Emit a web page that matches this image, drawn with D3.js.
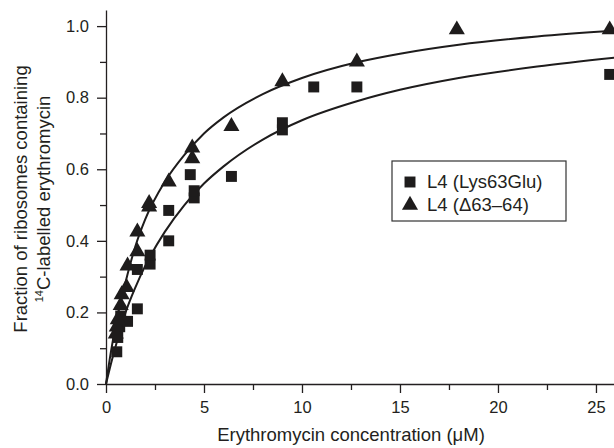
<!DOCTYPE html>
<html>
<head>
<meta charset="utf-8">
<script src="https://cdn.jsdelivr.net/npm/d3@7"></script>
<style>
  body { margin: 0; background: #fff; }
  svg { display: block; font-family: "Liberation Sans", Arial, sans-serif; }
  .axis path, .axis line { stroke: #231f20; stroke-width: 1.3; }
  .axis text { fill: #231f20; font-size: 16.5px; }
</style>
</head>
<body>
<svg id="chart" width="614" height="448"></svg>
<script>
// data
const lysPoints = [
  [0.55, 0.09], [0.6, 0.13], [0.7, 0.16], [0.75, 0.19], [1.1, 0.175],
  [1.6, 0.21], [1.6, 0.32], [2.25, 0.335], [2.25, 0.36], [3.2, 0.40],
  [3.2, 0.485], [4.3, 0.585], [4.5, 0.52], [4.5, 0.54], [6.4, 0.58],
  [9.0, 0.71], [9.0, 0.73], [10.6, 0.83], [12.8, 0.83], [25.7, 0.865]
];
const delPoints = [
  [0.5, 0.14], [0.55, 0.16], [0.6, 0.18], [0.75, 0.22], [0.8, 0.25],
  [1.05, 0.27], [1.1, 0.33], [1.6, 0.37], [1.6, 0.425], [2.2, 0.495],
  [2.2, 0.505], [3.2, 0.565], [4.4, 0.63], [4.4, 0.66], [6.4, 0.72],
  [9.0, 0.845], [12.8, 0.9], [17.9, 0.99], [25.7, 0.99]
];
// fitted curves
const lysCurve = [
  [0, 0], [0.25, 0.056], [0.5, 0.107], [1, 0.2], [1.5, 0.27], [2, 0.33],
  [3, 0.425], [4, 0.5], [5, 0.56], [6, 0.608], [8, 0.683], [10, 0.737],
  [12.8, 0.79], [15, 0.822], [18, 0.855], [22, 0.887], [26, 0.912]
];
const delCurve = [
  [0, 0], [0.25, 0.09], [0.5, 0.165], [1, 0.285], [1.5, 0.385], [2, 0.46],
  [3, 0.565], [4, 0.64], [5, 0.70], [6, 0.745], [8, 0.81], [10, 0.855],
  [12.8, 0.899], [15, 0.923], [18, 0.948], [22, 0.971], [26, 0.987]
];
const xTicks = [0, 5, 10, 15, 20, 25];
const xMinor = [2.5, 7.5, 12.5, 17.5, 22.5];
const yTicks = [0, 0.2, 0.4, 0.6, 0.8, 1.0];
const yMinor = [0.1, 0.3, 0.5, 0.7, 0.9];
const legendItems = [
  {label: "L4 (Lys63Glu)", symbol: "square"},
  {label: "L4 (\u039463\u201364)", symbol: "triangle"}
];

const ink = "#1e1c1c";
const svg = d3.select("#chart");
const margins = {left: 106, top: 10, right: 0, bottom: 64};
const width = +svg.attr("width");
const height = +svg.attr("height");

const xScale = d3.scaleLinear()
                 .domain([0, 25.92])
                 .range([margins.left, width - margins.right]);
const yScale = d3.scaleLinear()
                 .domain([0, 1.045])
                 .range([height - margins.bottom, margins.top]);

// minor ticks first, then the main axes on top
svg.append("g")
   .attr("class", "axis")
   .attr("transform", `translate(0, ${yScale(0)})`)
   .call(d3.axisBottom(xScale).tickValues(xMinor).tickSize(6).tickFormat(""))
   .select(".domain").remove();
svg.append("g")
   .attr("class", "axis")
   .attr("transform", `translate(${xScale(0)}, 0)`)
   .call(d3.axisLeft(yScale).tickValues(yMinor).tickSize(6).tickFormat(""))
   .select(".domain").remove();

svg.append("g")
   .attr("class", "axis")
   .attr("transform", `translate(0, ${yScale(0)})`)
   .call(d3.axisBottom(xScale).tickValues(xTicks).tickSize(9).tickPadding(8)
           .tickSizeOuter(0).tickFormat(d3.format("d")));
svg.append("g")
   .attr("class", "axis")
   .attr("transform", `translate(${xScale(0)}, 0)`)
   .call(d3.axisLeft(yScale).tickValues(yTicks).tickSize(9).tickPadding(8)
           .tickSizeOuter(0).tickFormat(d3.format(".1f")));

// axis titles
svg.append("text")
   .attr("x", 351)
   .attr("y", 441)
   .attr("text-anchor", "middle")
   .attr("font-size", 18.5)
   .attr("fill", "#231f20")
   .text("Erythromycin concentration (\u03bcM)");

const yTitle = svg.append("g")
                  .attr("transform", "translate(0, 199) rotate(-90)")
                  .attr("fill", "#231f20")
                  .attr("font-size", 18.5)
                  .attr("text-anchor", "middle");
yTitle.append("text")
      .attr("x", 0).attr("y", 27)
      .text("Fraction of ribosomes containing");
const line2 = yTitle.append("text").attr("x", 0).attr("y", 50);
line2.append("tspan").attr("font-size", 11).attr("dy", -7).text("14");
line2.append("tspan").attr("dy", 7).text("C-labelled erythromycin");

// curves
const curve = d3.line()
                .x(d => xScale(d[0]))
                .y(d => yScale(d[1]))
                .curve(d3.curveMonotoneX);
svg.selectAll(".fit")
   .data([lysCurve, delCurve])
   .join("path")
   .attr("class", "fit")
   .attr("d", curve)
   .attr("fill", "none")
   .attr("stroke", ink)
   .attr("stroke-width", 2);

// points
const squareSym = d3.symbol().type(d3.symbolSquare).size(120);
const triSym = d3.symbol().type(d3.symbolTriangle).size(112);
svg.selectAll(".lys")
   .data(lysPoints)
   .join("path")
   .attr("class", "lys")
   .attr("d", squareSym)
   .attr("transform", d => `translate(${xScale(d[0])}, ${yScale(d[1])})`)
   .attr("fill", ink);
svg.selectAll(".del")
   .data(delPoints)
   .join("path")
   .attr("class", "del")
   .attr("d", triSym)
   .attr("transform", d => `translate(${xScale(d[0])}, ${yScale(d[1])})`)
   .attr("fill", ink);

// legend
const legend = svg.append("g").attr("transform", "translate(392, 161)");
legend.append("rect")
      .attr("width", 174).attr("height", 60)
      .attr("fill", "#fff")
      .attr("stroke", "#333").attr("stroke-width", 1.2);
const rows = legend.selectAll(".row")
                   .data(legendItems)
                   .join("g")
                   .attr("class", "row")
                   .attr("transform", (d, i) => `translate(18, ${21 + i * 23})`);
rows.append("path")
    .attr("d", d => d.symbol === "square" ? squareSym() : triSym())
    .attr("fill", ink);
rows.append("text")
    .attr("x", 17).attr("y", 6)
    .attr("font-size", 18.5)
    .attr("fill", "#231f20")
    .text(d => d.label);
</script>
</body>
</html>
